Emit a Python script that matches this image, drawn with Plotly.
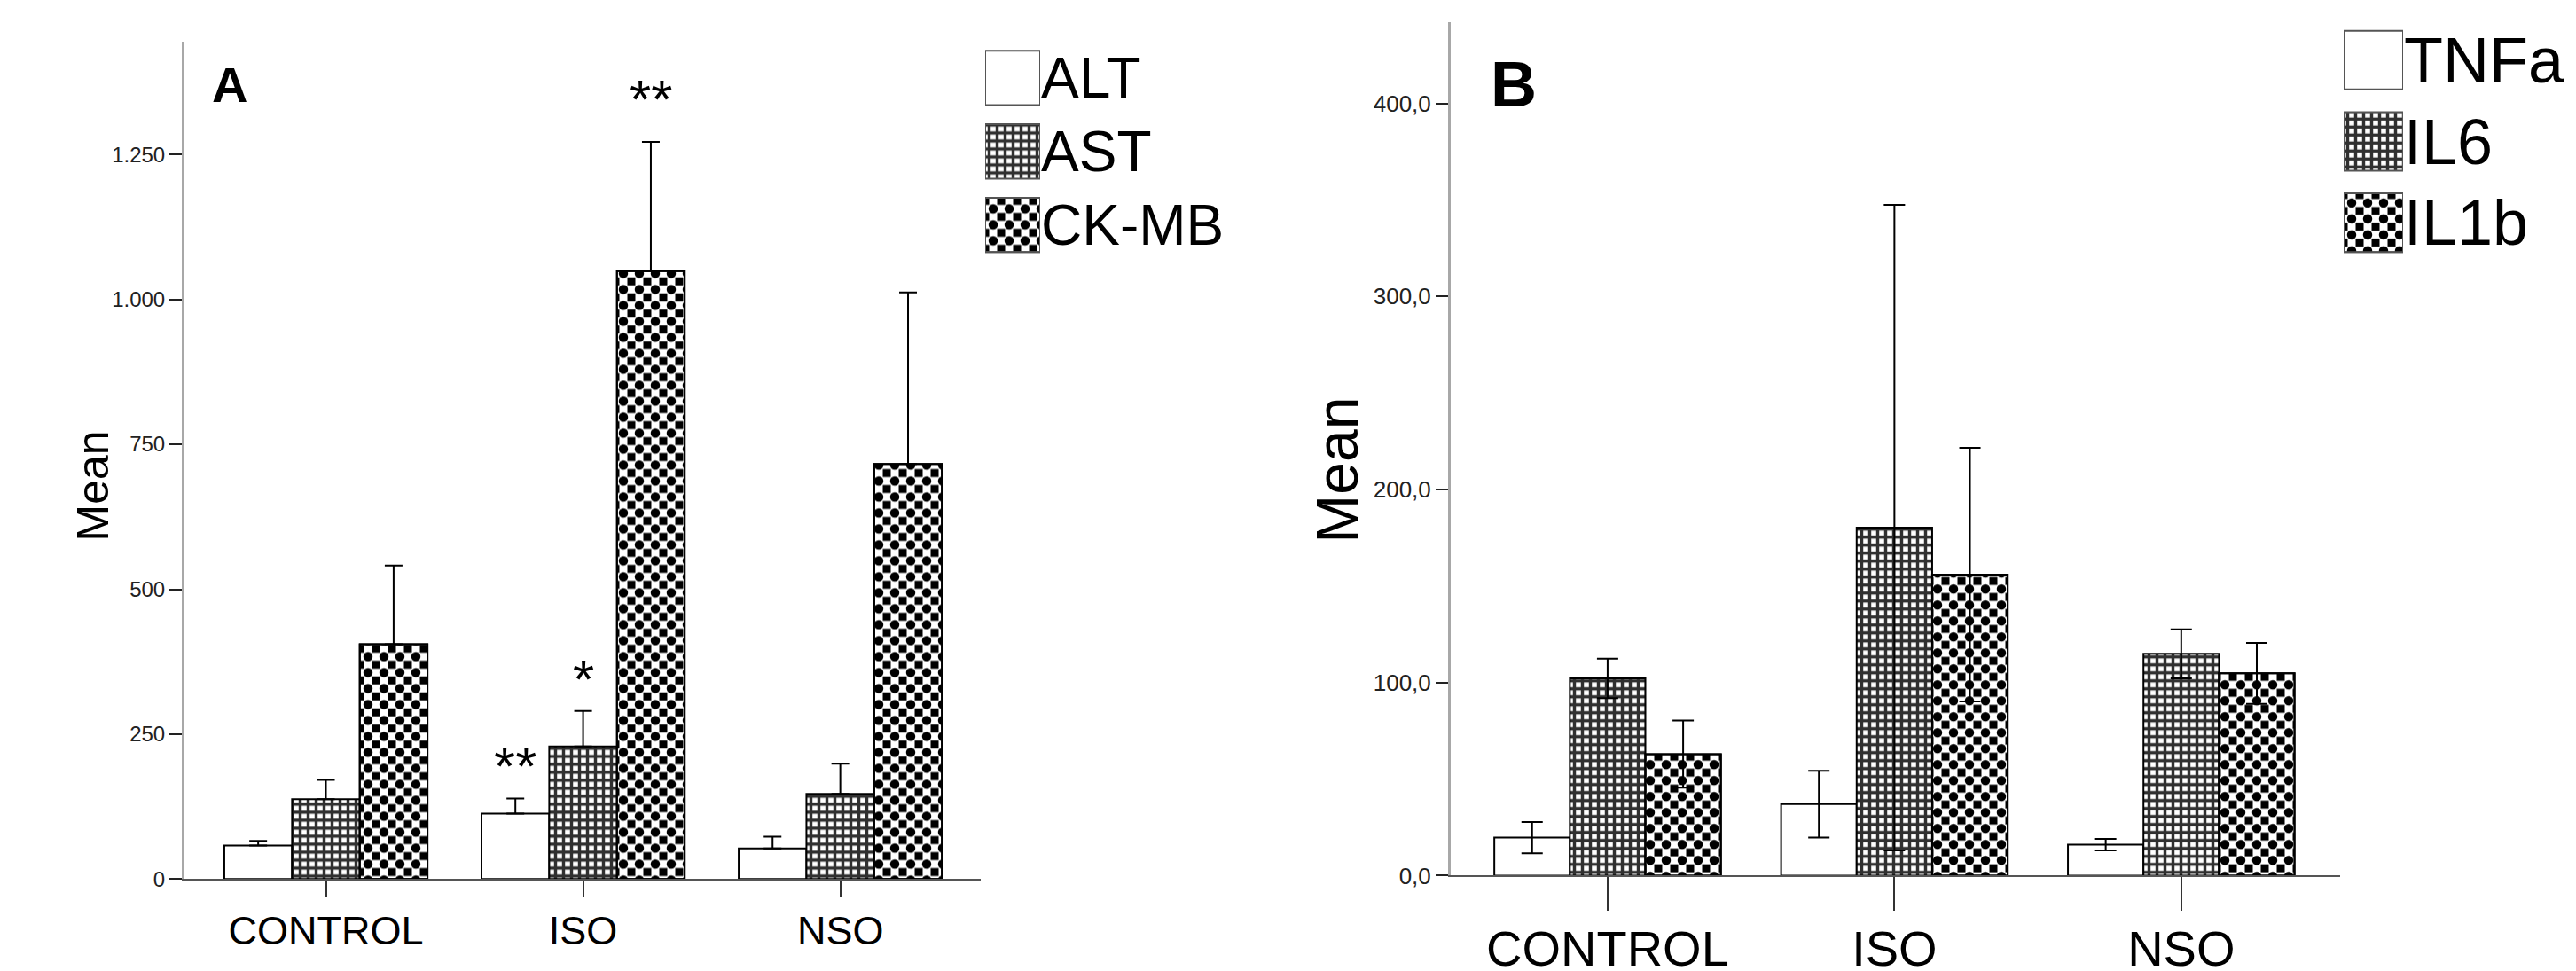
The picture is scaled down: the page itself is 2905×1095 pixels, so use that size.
import plotly.graph_objects as go

W, H = 2905, 1095
FONT = "Liberation Sans, Arial, sans-serif"

# ---------------- data ----------------
groups = ["CONTROL", "ISO", "NSO"]

# Panel A
a_series = ["ALT", "AST", "CK-MB"]
a_alt = [58, 113, 53]
a_alt_err = [8, 26, 20]
a_ast = [138, 229, 147]
a_ast_err = [33, 61, 52]
a_ckmb = [405, 1049, 716]
a_ckmb_err = [136, 223, 296]
a_tickvals = [0, 250, 500, 750, 1000, 1250]
a_ticktext = ["0", "250", "500", "750", "1.000", "1.250"]
a_marks_group = ["ISO", "ISO", "ISO"]
a_marks_series = [0, 1, 2]
a_marks_text = ["**", "*", "**"]

# Panel B
b_series = ["TNFa", "IL6", "IL1b"]
b_tnfa = [19.7, 37.0, 16.0]
b_tnfa_err = [8.1, 17.3, 3.0]
b_il6 = [102.2, 180.3, 114.9]
b_il6_err = [10.2, 167.2, 12.7]
b_il1b = [62.9, 155.9, 104.8]
b_il1b_err = [17.4, 65.7, 15.8]
b_tickvals = [0, 100, 200, 300, 400]
b_ticktext = ["0,0", "100,0", "200,0", "300,0", "400,0"]

# ---------------- styles ----------------
BARGAP = 0.21
CLEAR = "rgba(0,0,0,0)"
# base layer pattern per series (checker = "+" white lines on black + dots on top)
pat_shape = ["", "+", "+"]
pat_fg = ["black", "#303030", "white"]
pat_bg = ["white", "white", "black"]
pat_size = [8, 9, 18]
pat_solid = [0.3, 0.62, 0.75]
# top layer for the checker
chk_pat = dict(shape=".", fgcolor="black", bgcolor=CLEAR, size=18, solidity=0.27,
               fillmode="overlay", fgopacity=1)
mark_yshift = [0, 0, 12]


def hx(a, b):
    return [a / W, b / W]


def vy(top, bottom):
    return [(H - bottom) / H, (H - top) / H]


def base_marker(i, line_color="black"):
    return dict(color="white", line=dict(color=line_color, width=2),
                pattern=dict(shape=pat_shape[i], fgcolor=pat_fg[i], bgcolor=pat_bg[i],
                             size=pat_size[i], solidity=pat_solid[i], fillmode="overlay",
                             fgopacity=1))


fig = go.Figure()

panels = [
    ("x", "y", a_series, [a_alt, a_ast, a_ckmb], [a_alt_err, a_ast_err, a_ckmb_err], False, 10),
    ("x2", "y2", b_series, [b_tnfa, b_il6, b_il1b], [b_tnfa_err, b_il6_err, b_il1b_err], True, 12),
]
for xa, ya, names, vals, errs, sym, capw in panels:
    for i, name in enumerate(names):
        if sym:
            err = dict(type="data", array=errs[i], color="black", thickness=2, width=capw)
        else:
            err = dict(type="data", symmetric=False, array=errs[i], arrayminus=[0] * len(groups),
                       color="black", thickness=2, width=capw)
        is_chk = (i == 2)
        fig.add_trace(go.Bar(
            name=name, x=groups, y=vals[i], xaxis=xa, yaxis=ya, offsetgroup=str(i),
            marker=base_marker(i), error_y=None if is_chk else err, hoverinfo="skip" if is_chk else None,
        ))
        if is_chk:
            fig.add_trace(go.Bar(
                name=name, x=groups, y=vals[i], xaxis=xa, yaxis=ya, offsetgroup=str(i),
                marker=dict(color=CLEAR, line=dict(color="black", width=2), pattern=chk_pat),
                error_y=err,
            ))

# legend swatches (helper subplots)
for names, xa, ya, wdt in [(a_series, "x3", "y3", 0.74), (b_series, "x4", "y4", 0.72)]:
    fig.add_trace(go.Bar(
        orientation="h", y=names, x=[1] * len(names), xaxis=xa, yaxis=ya, width=wdt, offsetgroup="L",
        marker=dict(color="white", line=dict(color="#555555", width=2),
                    pattern=dict(shape=pat_shape, fgcolor=pat_fg, bgcolor=pat_bg,
                                 size=pat_size, solidity=pat_solid, fillmode="overlay", fgopacity=1)),
        hoverinfo="skip",
    ))
    fig.add_trace(go.Bar(
        orientation="h", y=[names[2]], x=[1], xaxis=xa, yaxis=ya, width=wdt, offsetgroup="L",
        marker=dict(color=CLEAR, line=dict(color="#555555", width=2), pattern=chk_pat),
        hoverinfo="skip",
    ))

yaxis_common = dict(showgrid=False, zeroline=False, showline=True, linecolor="#a8a8a8", linewidth=3,
                    ticks="outside", ticklen=14, tickwidth=2, tickcolor="#222222")
xaxis_common = dict(showgrid=False, zeroline=False, showline=True, linecolor="#555555", linewidth=2,
                    ticks="outside", tickwidth=2, tickcolor="#333333", type="category")

fig.update_layout(
    width=W, height=H, margin=dict(l=0, r=0, t=0, b=0),
    paper_bgcolor="white", plot_bgcolor="white", showlegend=False,
    barmode="group", bargap=BARGAP, bargroupgap=0,
    font=dict(family=FONT, color="black"),
    xaxis=dict(domain=hx(200, 1098), range=[-0.55, 2.546], anchor="y", ticklen=18,
               tickfont=dict(size=45, color="black"), **xaxis_common),
    yaxis=dict(domain=vy(40, 997), range=[0, 1444], anchor="x", tickvals=a_tickvals, ticktext=a_ticktext,
               tickfont=dict(size=24, color="#222222"), **yaxis_common),
    xaxis2=dict(domain=hx(1628, 2631), range=[-0.547, 2.554], anchor="y2", ticklen=38,
                ticklabelstandoff=-6, tickfont=dict(size=56, color="black"), **xaxis_common),
    yaxis2=dict(domain=vy(17.5, 993), range=[0, 442], anchor="x2", tickvals=b_tickvals, ticktext=b_ticktext,
                tickfont=dict(size=26, color="#222222"), **yaxis_common),
    xaxis3=dict(domain=hx(1103, 1165), range=[0, 1], anchor="y3", visible=False, fixedrange=True),
    yaxis3=dict(domain=vy(39, 291), anchor="x3", autorange="reversed", side="right", showline=False,
                showgrid=False, zeroline=False, ticks="", tickfont=dict(size=64, color="black")),
    xaxis4=dict(domain=hx(2635, 2702), range=[0, 1], anchor="y4", visible=False, fixedrange=True),
    yaxis4=dict(domain=vy(14, 293), anchor="x4", autorange="reversed", side="right", showline=False,
                showgrid=False, zeroline=False, ticks="", tickfont=dict(size=72, color="black")),
)

ann = []
ann.append(dict(text="<b>A</b>", x=251 / W, y=(H - 89) / H, xref="paper", yref="paper",
                showarrow=False, xanchor="center", yanchor="middle", font=dict(size=56)))
ann.append(dict(text="<b>B</b>", x=1699 / W, y=(H - 88) / H, xref="paper", yref="paper",
                showarrow=False, xanchor="center", yanchor="middle", font=dict(size=72)))
ann.append(dict(text="Mean", x=97 / W, y=(H - 548) / H, xref="paper", yref="paper", textangle=-90,
                showarrow=False, xanchor="center", yanchor="middle", font=dict(size=50)))
ann.append(dict(text="Mean", x=1500 / W, y=(H - 530) / H, xref="paper", yref="paper", textangle=-90,
                showarrow=False, xanchor="center", yanchor="middle", font=dict(size=66)))

a_vals = panels[0][3]
a_errs = panels[0][4]
step = (1 - BARGAP) / len(a_series)
for k, (g, s, t) in enumerate(zip(a_marks_group, a_marks_series, a_marks_text)):
    gi = groups.index(g)
    top = a_vals[s][gi] + a_errs[s][gi]
    ann.append(dict(text=t, x=gi + (s - 1) * step, y=top, xref="x", yref="y", showarrow=False,
                    xanchor="center", yanchor="bottom", yshift=mark_yshift[k], font=dict(size=62)))

fig.update_layout(annotations=ann)
fig.write_html("out.html")
